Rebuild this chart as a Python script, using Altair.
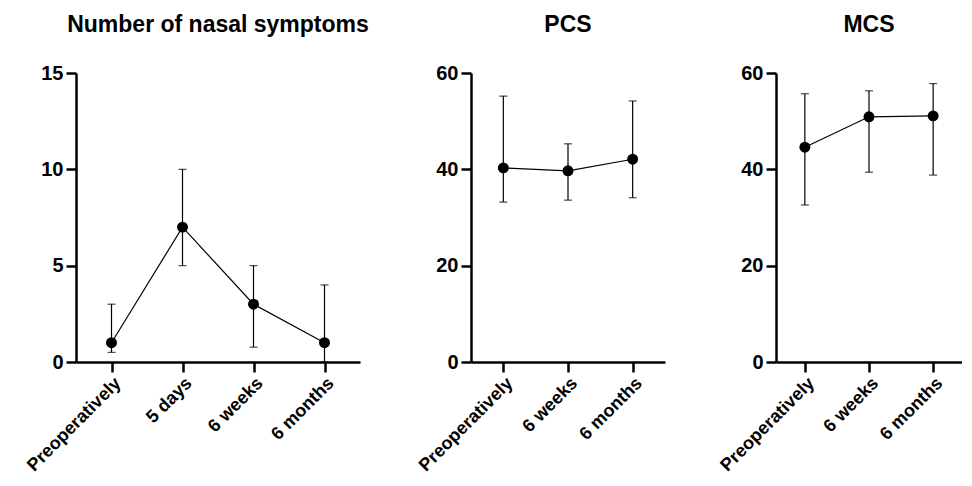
import altair as alt
import pandas as pd

# --- data ---
cats_nasal = ["Preoperatively", "5 days", "6 weeks", "6 months"]
nasal_mean = [1.0, 7.0, 3.0, 1.0]
nasal_low = [0.5, 5.0, 0.77, 0.0]
nasal_high = [3.0, 10.0, 5.0, 4.0]

cats_sf = ["Preoperatively", "6 weeks", "6 months"]
pcs_mean = [40.3, 39.7, 42.1]
pcs_low = [33.2, 33.6, 34.1]
pcs_high = [55.2, 45.3, 54.2]

mcs_mean = [44.6, 50.9, 51.1]
mcs_low = [32.6, 39.4, 38.8]
mcs_high = [55.7, 56.3, 57.8]

FONT = "Liberation Sans"


def panel(cats, mean, low, high, title, ymax, yticks, width, pad=0.5):
    df = pd.DataFrame({"cat": cats, "mean": mean, "low": low, "high": high})
    x = alt.X("cat:N", sort=cats,
              scale=alt.Scale(type="point", padding=pad),
              axis=alt.Axis(title=None, labelAngle=-45, labelFontSize=18,
                            labelFontWeight="bold", labelPadding=2,
                            tickSize=10, tickWidth=2.5, domainWidth=2.5,
                            labelColor="black", tickColor="black",
                            domainColor="black", labelFont=FONT))
    yscale = alt.Scale(domain=[0, ymax], nice=False)
    yaxis = alt.Axis(title=None, values=yticks, labelFontSize=20,
                     labelFontWeight="bold", labelPadding=3, tickSize=10,
                     tickWidth=2.5, domainWidth=2.5, grid=False,
                     labelColor="black", tickColor="black",
                     domainColor="black", labelFont=FONT)
    base = alt.Chart(df)
    rule = base.mark_rule(color="black", strokeWidth=1.2).encode(
        x=x, y=alt.Y("low:Q", scale=yscale, axis=yaxis), y2="high:Q")
    cap_lo = base.mark_tick(color="black", size=8, thickness=1.2, orient="horizontal").encode(
        x=x, y=alt.Y("low:Q", scale=yscale, axis=yaxis))
    cap_hi = base.mark_tick(color="black", size=8, thickness=1.2, orient="horizontal").encode(
        x=x, y=alt.Y("high:Q", scale=yscale, axis=yaxis))
    line = base.mark_line(color="black", strokeWidth=1.2).encode(
        x=x, y=alt.Y("mean:Q", scale=yscale, axis=yaxis))
    pts = base.mark_circle(color="black", size=120, opacity=1).encode(
        x=x, y=alt.Y("mean:Q", scale=yscale, axis=yaxis))
    return alt.layer(rule, cap_lo, cap_hi, line, pts).properties(
        width=width, height=289,
        title=alt.TitleParams(title, fontSize=23, fontWeight="bold",
                              font=FONT, color="black", anchor="middle",
                              frame="group", offset=26))


p1 = panel(cats_nasal, nasal_mean, nasal_low, nasal_high,
           "Number of nasal symptoms", 15, [0, 5, 10, 15], 284)
p2 = panel(cats_sf, pcs_mean, pcs_low, pcs_high, "PCS", 60, [0, 20, 40, 60], 194)
p3 = panel(cats_sf, mcs_mean, mcs_low, mcs_high, "MCS", 60, [0, 20, 40, 60], 186, pad=0.45)

chart = alt.hconcat(p1, p2, p3, spacing=111, bounds="flush").properties(
    padding={"left": 15, "top": 6, "right": 0, "bottom": 0},
    background="white"
).configure_view(stroke=None)

chart.save("out.html", embed_options={"renderer": "svg", "actions": False})
